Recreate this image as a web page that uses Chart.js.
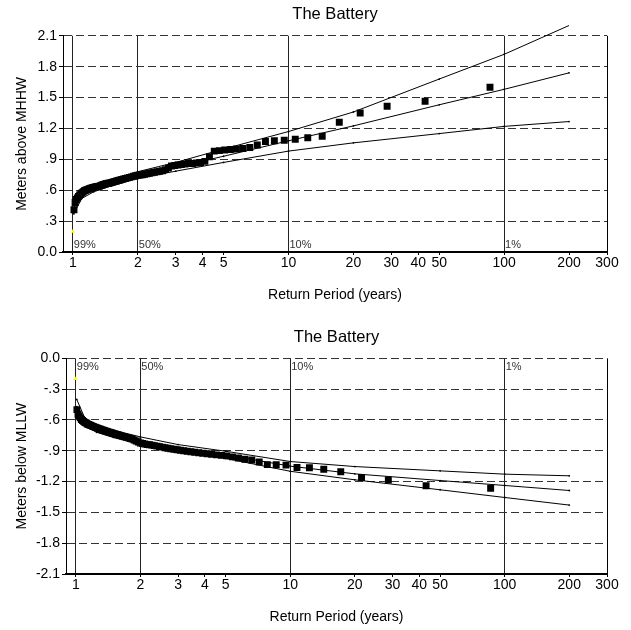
<!DOCTYPE html>
<html><head><meta charset="utf-8">
<script src="https://cdn.jsdelivr.net/npm/chart.js@4/dist/chart.umd.min.js"></script>
<style>
html,body{margin:0;padding:0;background:#fff;width:631px;height:630px;overflow:hidden}
#c1{position:absolute;left:0;top:0}
#c2{position:absolute;left:0;top:322px}
</style></head><body>
<canvas id="c1" width="631" height="310"></canvas>
<canvas id="c2" width="631" height="308"></canvas>
<script>
// Return periods (years) of the 85 ranked annual extremes
const returnPeriods = [86,43,28.667,21.5,17.2,14.333,12.286,10.75,9.556,8.6,7.818,7.167,6.615,6.143,5.733,5.375,5.059,4.778,4.526,4.3,4.095,3.909,3.739,3.583,3.44,3.308,3.185,3.071,2.966,2.867,2.774,2.688,2.606,2.529,2.457,2.389,2.324,2.263,2.205,2.15,2.098,2.048,2.0,1.955,1.911,1.870,1.830,1.792,1.755,1.72,1.686,1.654,1.623,1.593,1.564,1.536,1.509,1.483,1.458,1.433,1.410,1.387,1.365,1.344,1.323,1.303,1.284,1.265,1.246,1.229,1.211,1.194,1.178,1.162,1.147,1.132,1.117,1.103,1.089,1.075,1.062,1.049,1.036,1.024,1.012];
// Annual maximum water levels (m above MHHW)
const highWater = [1.60,1.465,1.415,1.35,1.26,1.125,1.11,1.095,1.085,1.08,1.073,1.04,1.015,1.005,1.0,0.995,0.99,0.985,0.98,0.925,0.88,0.87,0.865,0.86,0.86,0.855,0.85,0.845,0.84,0.835,0.815,0.80,0.79,0.785,0.78,0.775,0.77,0.765,0.76,0.755,0.75,0.748,0.745,0.74,0.735,0.73,0.725,0.72,0.715,0.71,0.705,0.70,0.695,0.69,0.685,0.68,0.675,0.67,0.668,0.665,0.66,0.655,0.65,0.645,0.64,0.637,0.634,0.631,0.628,0.625,0.62,0.615,0.61,0.605,0.60,0.595,0.585,0.575,0.565,0.555,0.54,0.525,0.51,0.48,0.41];
// Annual minimum water levels (m below MLLW)
const lowWater = [-1.265,-1.24,-1.185,-1.16,-1.105,-1.08,-1.065,-1.063,-1.04,-1.037,-1.035,-1.01,-0.99,-0.982,-0.97,-0.96,-0.95,-0.945,-0.94,-0.935,-0.93,-0.925,-0.92,-0.915,-0.91,-0.905,-0.90,-0.895,-0.89,-0.885,-0.88,-0.875,-0.87,-0.865,-0.86,-0.855,-0.85,-0.845,-0.842,-0.84,-0.835,-0.83,-0.825,-0.815,-0.805,-0.795,-0.785,-0.78,-0.775,-0.77,-0.765,-0.76,-0.755,-0.75,-0.745,-0.74,-0.735,-0.73,-0.725,-0.72,-0.715,-0.71,-0.705,-0.70,-0.695,-0.69,-0.685,-0.68,-0.675,-0.67,-0.665,-0.66,-0.655,-0.65,-0.645,-0.64,-0.63,-0.625,-0.615,-0.605,-0.595,-0.58,-0.565,-0.545,-0.50];

// Fitted curves and confidence bounds
const fitPeriods = [1.01,1.1,1.25,1.5,2,3,5,10,20,50,100,200];
const highUpper = [0.43,0.57,0.635,0.69,0.78,0.87,1.00,1.17,1.36,1.68,1.92,2.20];
const highFit   = [0.40,0.545,0.61,0.665,0.745,0.825,0.93,1.08,1.225,1.43,1.58,1.74];
const highLower = [0.37,0.52,0.585,0.64,0.715,0.785,0.87,0.98,1.06,1.15,1.22,1.267];
const lowUpper  = [-0.40,-0.58,-0.65,-0.70,-0.765,-0.84,-0.905,-1.005,-1.054,-1.096,-1.128,-1.144];
const lowFit    = [-0.47,-0.62,-0.69,-0.74,-0.80,-0.87,-0.94,-1.05,-1.125,-1.19,-1.238,-1.287];
const lowLower  = [-0.53,-0.66,-0.72,-0.77,-0.835,-0.905,-0.975,-1.10,-1.183,-1.28,-1.355,-1.429];

// Small yellow marker
const markerPeriod = [1];
const highMarker = [0.2];
const lowMarker = [-0.2];

// Axes
const xTicks = [1,2,3,4,5,10,20,30,40,50,100,200,300];
const highYTicks = [0,0.3,0.6,0.9,1.2,1.5,1.8,2.1];
const highYLabels = ['0.0','.3','.6','.9','1.2','1.5','1.8','2.1'];
const lowYTicks = [-2.1,-1.8,-1.5,-1.2,-0.9,-0.6,-0.3,0];
const lowYLabels = ['-2.1','-1.8','-1.5','-1.2','-.9','-.6','-.3','0.0'];
const vLines = [1,2,10,100];
const vLabels = ['99%','50%','10%','1%'];

const FONT = "'Liberation Sans', Arial, sans-serif";

const pts = (xs, ys) => xs.map((x, i) => ({x, y: ys[i]}));

const framePlugin = {
  id: 'frame',
  beforeDatasetsDraw(chart, args, opts) {
    const {ctx, chartArea: a, scales: {x}} = chart;
    ctx.save();
    ctx.fillStyle = '#333';
    ctx.font = '11px ' + FONT;
    ctx.textBaseline = 'middle';
    ctx.textAlign = 'left';
    vLines.forEach((v, i) => {
      const px = x.getPixelForValue(v);
      const py = opts.labelPos === 'bottom' ? a.bottom - 7 : a.top + 9;
      ctx.fillText(vLabels[i], px + 1, py);
    });
    ctx.restore();
  },
  afterDraw(chart) {
    const {ctx, chartArea: a} = chart;
    ctx.save();
    ctx.strokeStyle = '#000';
    ctx.lineWidth = 1;
    ctx.beginPath();
    ctx.moveTo(Math.round(a.right) + 0.5, a.top);
    ctx.lineTo(Math.round(a.right) + 0.5, a.bottom);
    ctx.stroke();
    ctx.restore();
  }
};

function makeChart(id, cfg) {
  const lineDs = (data) => ({
    type: 'scatter', data, showLine: true, borderColor: '#000', borderWidth: 1,
    pointRadius: 0.9, pointBackgroundColor: '#000', pointBorderWidth: 0, clip: false
  });
  return new Chart(document.getElementById(id), {
    type: 'scatter',
    data: {
      datasets: [
        lineDs(pts(fitPeriods, cfg.upper)),
        lineDs(pts(fitPeriods, cfg.fit)),
        lineDs(pts(fitPeriods, cfg.lower)),
        {
          data: pts(returnPeriods, cfg.values), pointStyle: 'rect', pointRadius: 4.9,
          backgroundColor: '#000', borderColor: '#000', borderWidth: 0
        },
        {
          data: pts(markerPeriod, cfg.marker), pointStyle: 'triangle', pointRadius: 2.5,
          backgroundColor: '#ffff00', borderColor: '#ffff00', borderWidth: 0
        }
      ]
    },
    options: {
      responsive: false, animation: false, devicePixelRatio: 1,
      layout: {padding: {left: 10, right: 24, top: 0, bottom: 0}},
      plugins: {
        legend: {display: false}, tooltip: {enabled: false},
        title: {display: true, text: 'The Battery', fullSize: false, color: '#000',
          font: {family: FONT, size: 16.5, weight: 'normal'}, padding: cfg.titlePad},
        frame: {labelPos: cfg.labelPos}
      },
      scales: {
        x: {
          type: 'logarithmic', min: 0.9, max: 300,
          afterBuildTicks: s => { s.ticks = xTicks.map(v => ({value: v})); },
          afterFit: s => { s.height = cfg.xHeight; },
          ticks: {callback: v => String(v), autoSkip: false, maxRotation: 0, padding: 0,
            color: '#000', font: {family: FONT, size: 14}},
          grid: {color: c => (c.tick && vLines.includes(c.tick.value)) ? '#222' : 'rgba(0,0,0,0)',
            lineWidth: 1, drawTicks: true, tickLength: 3, tickColor: '#000', tickWidth: 1},
          border: {display: true, color: '#000', width: 2},
          title: {display: true, text: 'Return Period (years)', color: '#000',
            font: {family: FONT, size: 14}, padding: {top: 0, bottom: cfg.xTitlePad}}
        },
        y: {
          type: 'linear', min: cfg.ymin, max: cfg.ymax,
          afterBuildTicks: s => { s.ticks = cfg.yTicks.map(v => ({value: v})); },
          afterFit: s => { s.width = cfg.yWidth; },
          ticks: {
            callback: v => { const i = cfg.yTicks.findIndex(t => Math.abs(t - v) < 1e-6); return i >= 0 ? cfg.yLabels[i] : ''; },
            color: '#000', font: {family: FONT, size: 14}, padding: 2, autoSkip: false
          },
          grid: {color: '#333', lineWidth: 1, drawTicks: true, tickLength: 4, tickColor: '#000', tickBorderDash: []},
          border: {display: true, color: '#000', width: 1, dash: [8, 4]},
          title: {display: true, text: cfg.yTitle, color: '#000',
            font: {family: FONT, size: 14}, padding: {top: 4, bottom: 0}}
        }
      }
    },
    plugins: [framePlugin]
  });
}

makeChart('c1', {
  values: highWater, upper: highUpper, fit: highFit, lower: highLower, marker: highMarker,
  ymin: 0, ymax: 2.1, yTicks: highYTicks, yLabels: highYLabels, yTitle: 'Meters above MHHW',
  titlePad: {top: 5, bottom: 11}, xHeight: 58, xTitlePad: 6, yWidth: 53, labelPos: 'bottom'
});
makeChart('c2', {
  values: lowWater, upper: lowUpper, fit: lowFit, lower: lowLower, marker: lowMarker,
  ymin: -2.1, ymax: 0, yTicks: lowYTicks, yLabels: lowYLabels, yTitle: 'Meters below MLLW',
  titlePad: {top: 6, bottom: 10.5}, xHeight: 56, xTitlePad: 4, yWidth: 56, labelPos: 'top'
});
</script>
</body></html>
